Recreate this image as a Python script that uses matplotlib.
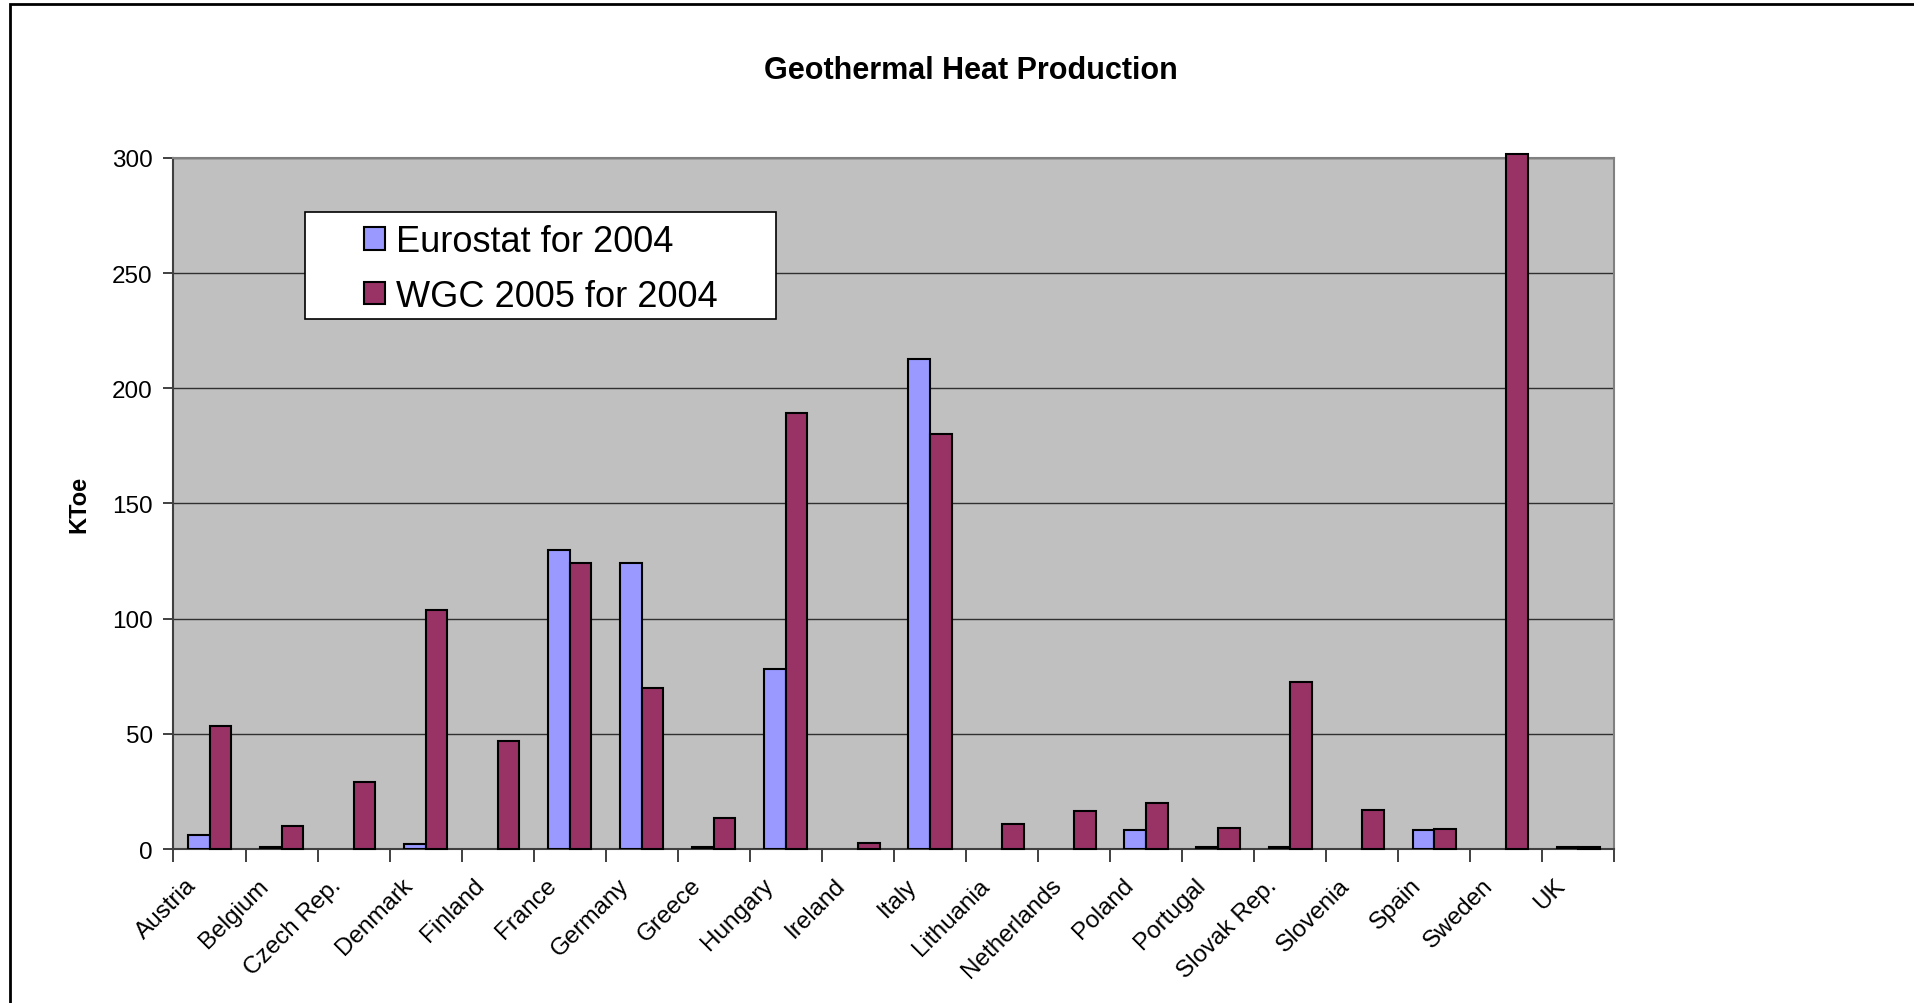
import numpy as np
import matplotlib.pyplot as plt
from matplotlib.patches import Rectangle
from matplotlib.transforms import ScaledTranslation, blended_transform_factory

plt.rcParams['font.family'] = ['Liberation Sans', 'DejaVu Sans']

# Data (KToe); nan = no bar
countries = ["Austria", "Belgium", "Czech Rep.", "Denmark", "Finland", "France",
             "Germany", "Greece", "Hungary", "Ireland", "Italy", "Lithuania",
             "Netherlands", "Poland", "Portugal", "Slovak Rep.", "Slovenia",
             "Spain", "Sweden", "UK"]
eurostat_2004 = [6.1, 1, np.nan, 2, np.nan, 130, 124, 1, 78, np.nan, 212.5, np.nan,
                 np.nan, 8.1, 1, 1, np.nan, 8.1, np.nan, 1]
wgc_2005 = [53.3, 10.1, 29.1, 103.9, 46.7, 124, 69.7, 13.5, 189.2, 2.5, 180.2, 10.9,
            16.4, 20, 9.3, 72.3, 17, 8.6, 301.5, 1]
yticks = [0, 50, 100, 150, 200, 250, 300]

fig = plt.figure(figsize=(19.15, 10.04), dpi=100)
ax = fig.add_axes([0.0906, 0.1533, 0.7524, 0.6885])

x = np.arange(len(countries))
w = 0.3
ax.bar(x - w / 2, eurostat_2004, w, color="#9999FF", edgecolor="black",
       linewidth=1.5, label="Eurostat for 2004", zorder=3)
bars = ax.bar(x + w / 2, wgc_2005, w, color="#993366", edgecolor="black",
              linewidth=1.5, label="WGC 2005 for 2004", zorder=3)
for b in bars:
    b.set_clip_on(False)

ax.set_facecolor("#C0C0C0")
ax.set_xlim(-0.5, len(countries) - 0.5)
ax.set_ylim(0, 300)
ax.set_yticks(yticks)
ax.yaxis.grid(True, color="#303030", linewidth=1.0, zorder=1)
ax.set_axisbelow(True)

# category boundary ticks; labels drawn as text a little left of each centre
ax.set_xticks(np.arange(len(countries) + 1) - 0.5)
ax.set_xticklabels([])
ax.tick_params(axis="x", length=9, width=1.2, color="#202020", direction="out")
ax.tick_params(axis="y", length=7, width=1.2, color="#202020", labelsize=17.5, pad=8)
lab_tr = blended_transform_factory(ax.transData, ax.transAxes) + \
    ScaledTranslation(-0.24, -0.25, fig.dpi_scale_trans)
for xi, name in zip(x, countries):
    ax.text(xi, 0, name, transform=lab_tr, rotation=45, ha="right", va="top",
            rotation_mode="anchor", fontsize=17.5)

for s in ax.spines.values():
    s.set_color("#808080")
    s.set_linewidth(1.5)
ax.spines["bottom"].set_color("#404040")
ax.spines["left"].set_color("#404040")

ax.set_ylabel("KToe", fontsize=17, fontweight="bold")
ax.yaxis.set_label_coords(-0.058, 0.5)
fig.text(0.507, 0.929, "Geothermal Heat Production", ha="center", va="center",
         fontsize=22, fontweight="bold")

# legend box drawn separately to get the wide side padding
ax.add_patch(Rectangle((0.0915, 0.767), 0.3265, 0.155, transform=ax.transAxes,
                       facecolor="white", edgecolor="black", linewidth=1.2, zorder=5))
leg = ax.legend(loc="center", bbox_to_anchor=(0.2548, 0.8395), fontsize=26,
                frameon=False, labelspacing=0.55, handlelength=0.6,
                handleheight=0.6, handletextpad=0.3, borderaxespad=0)
leg.set_zorder(6)
for h in leg.legend_handles:
    h.set_linewidth(1.5)

# outer chart border
fig.patches.append(Rectangle((0.0051, -0.1), 1.2, 1.0951, transform=fig.transFigure,
                             fill=False, edgecolor="black", linewidth=2))

plt.savefig("out.png", dpi=100)
